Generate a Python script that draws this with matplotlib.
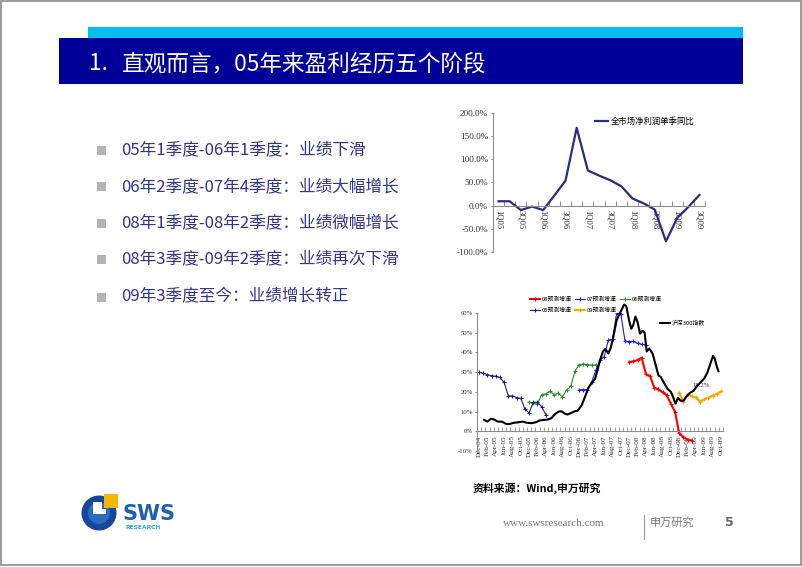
import numpy as np
import matplotlib
matplotlib.use('Agg')
import matplotlib.pyplot as plt
from matplotlib.patches import Rectangle, Circle

plt.rcParams['font.family'] = ['Noto Sans CJK SC', 'DejaVu Sans']

W, H = 802, 567

# ---------------- text content ----------------
title_num = "1."
title_text = "直观而言，05年来盈利经历五个阶段"
bullets = [
    "05年1季度-06年1季度：业绩下滑",
    "06年2季度-07年4季度：业绩大幅增长",
    "08年1季度-08年2季度：业绩微幅增长",
    "08年3季度-09年2季度：业绩再次下滑",
    "09年3季度至今：业绩增长转正",
]
source_text = "资料来源：Wind,申万研究"

# ---------------- chart 1 data ----------------
quarters = ['1Q05', '2Q05', '3Q05', '4Q05', '1Q06', '2Q06', '3Q06', '4Q06',
            '1Q07', '2Q07', '3Q07', '4Q07', '1Q08', '2Q08', '3Q08', '4Q08',
            '1Q09', '2Q09', '3Q09']
profit_yoy = [9.5, 9.5, -9.5, -2.0, -9.5, 22.0, 54.0, 168.0,
              76.0, 65.0, 55.0, 42.0, 15.5, 5.0, -8.5, -77.0,
              -27.0, -3.0, 23.0]
profit_label = '全市场净利润单季同比'
yticks1 = [-100, -50, 0, 50, 100, 150, 200]

# ---------------- chart 2 data ----------------
months = ['Dec-04',
          'Jan-05', 'Feb-05', 'Mar-05', 'Apr-05', 'May-05', 'Jun-05', 'Jul-05', 'Aug-05', 'Sep-05', 'Oct-05', 'Nov-05', 'Dec-05',
          'Jan-06', 'Feb-06', 'Mar-06', 'Apr-06', 'May-06', 'Jun-06', 'Jul-06', 'Aug-06', 'Sep-06', 'Oct-06', 'Nov-06', 'Dec-06',
          'Jan-07', 'Feb-07', 'Mar-07', 'Apr-07', 'May-07', 'Jun-07', 'Jul-07', 'Aug-07', 'Sep-07', 'Oct-07', 'Nov-07', 'Dec-07',
          'Jan-08', 'Feb-08', 'Mar-08', 'Apr-08', 'May-08', 'Jun-08', 'Jul-08', 'Aug-08', 'Sep-08', 'Oct-08', 'Nov-08', 'Dec-08',
          'Jan-09', 'Feb-09', 'Mar-09', 'Apr-09', 'May-09', 'Jun-09', 'Jul-09', 'Aug-09', 'Sep-09', 'Oct-09']

f05_start = 'Dec-04'
f05 = [30.0, 29.5, 28.7, 28.2, 27.9, 27.3, 24.8, 18.0, 17.9, 17.1, 16.7, 11.2, 9.3, 14.7, 14.7, 12.5, 8.5]
f06_start = 'Dec-05'
f06 = [14.8, 14.2, 13.8, 18.6, 19.0, 20.2, 18.6, 19.3, 17.4, 21.0, 22.8, 30.6, 33.8, 34.1, 33.8, 33.6, 33.6]
f07_start = 'Dec-06'
f07 = [21.1, 21.1, 21.1, 25.0, 31.0, 36.1, 37.8, 46.3, 46.7, 60.0, 59.5, 45.8, 45.5, 45.6, 44.6, 44.1, 43.8]
f08_start = 'Dec-07'
f08 = [35.0, 35.5, 36.1, 37.3, 29.0, 28.0, 22.2, 21.2, 19.8, 18.3, 14.0, 9.8, -1.0, -3.0, -4.2, -4.7]
f09_start = 'Dec-08'
f09 = [19.6, 14.8, 18.8, 17.7, 17.2, 15.0, 16.3, 17.1, 18.1, 19.0, 20.2]

# CSI 300 index (secondary scale, drawn in chart units), month offset from Dec-04
csi_pos = [1.2, 2.0, 2.8, 3.6, 4.5, 5.5, 6.5, 7.3, 8.3, 9.5, 10.5, 11.5, 12.5, 13.7, 14.5,
           15.7, 16.5, 17.3, 18.3, 19.2, 19.8, 20.6, 21.2, 22.2, 23.0, 23.6, 24.6, 25.4,
           26.2, 27.0, 27.8, 28.4, 29.0, 29.7, 30.3, 31.0, 31.6, 32.2, 33.0, 33.8, 34.8,
           35.3, 36.0, 36.5, 37.0, 37.5, 38.0, 38.6, 39.2, 39.7, 40.2, 40.8, 41.6, 42.3,
           43.0, 43.6, 44.5, 45.2, 46.0, 46.6, 47.1, 47.7, 48.3, 49.0, 49.8, 50.6, 51.4,
           52.3, 53.2, 54.0, 54.8, 55.5, 56.1, 56.5, 57.0, 57.4]
csi_val = [5.8, 4.9, 6.3, 6.0, 4.9, 4.9, 3.7, 3.7, 4.3, 4.6, 4.9, 4.3, 4.1, 4.6, 5.5,
           5.8, 6.0, 6.6, 8.9, 10.1, 10.1, 8.9, 8.5, 9.4, 10.2, 10.4, 13.1, 17.5,
           22.0, 24.5, 26.5, 31.0, 36.0, 40.5, 41.8, 39.5, 42.5, 48.0, 56.4, 60.0, 64.3,
           63.5, 56.0, 52.0, 54.0, 58.2, 55.5, 49.5, 51.0, 50.0, 40.5, 42.0, 39.5, 34.0,
           28.5, 27.5, 24.0, 21.5, 20.0, 17.0, 14.0, 17.0, 15.5, 15.5, 17.8, 19.5, 20.5,
           23.0, 25.0, 26.8, 30.0, 34.5, 38.2, 37.0, 33.0, 30.5]
yticks2 = [-10, 0, 10, 20, 30, 40, 50, 60]
annot_label = '18.2%'

# ---------------- figure ----------------
fig = plt.figure(figsize=(W / 100, H / 100), dpi=100)
bg = fig.add_axes([0, 0, 1, 1], zorder=0)
bg.set_xlim(0, W)
bg.set_ylim(H, 0)
bg.axis('off')

# page border
bg.add_patch(Rectangle((0.8, 0.8), W - 2.0, 564.5, fill=False, ec='#8a8a8a', lw=1.2))
# header bars
bg.add_patch(Rectangle((88, 26.7), 655, 11.8, color='#00bff0', lw=0))
bg.add_patch(Rectangle((58.5, 38.3), 684.5, 45.9, color='#000099', lw=0))
bg.text(89, 64, title_num, color='white', fontsize=16.3, va='center', ha='left')
bg.text(122, 64, title_text, color='white', fontsize=16.3, va='center', ha='left')

# bullets
bullet_y = [150, 186.5, 223, 259, 297]
for yy, txt in zip(bullet_y, bullets):
    bg.add_patch(Rectangle((97, yy - 4.5), 9, 9, color='#b4b4b4', lw=0))
    bg.text(121, yy, txt, color='#333390', fontsize=12, va='center', ha='left')

# footer
bg.text(473, 488, source_text, color='black', fontsize=7.8, fontweight='bold', va='center', ha='left')
bg.text(503, 523, 'www.swsresearch.com', color='#7a7a7a', fontsize=8, family='Liberation Serif',
        va='center', ha='left')
bg.plot([644, 644], [515, 539], color='#9a9a9a', lw=0.8)
bg.text(650, 523, '申万研究', color='#7a7a7a', fontsize=8, va='center', ha='left')
bg.text(725, 522, '5', color='#6a6a6a', fontsize=9, fontweight='bold', family='DejaVu Sans',
        va='center', ha='left')

# logo
bg.add_patch(Circle((99, 513), 17.5, color='#17479a', lw=0))
bg.add_patch(Circle((99, 513), 11, color='#2a6cc0', lw=0))
bg.add_patch(Rectangle((93, 502), 9, 12, color='white', lw=0))
bg.add_patch(Rectangle((93, 509), 13, 5, color='white', lw=0))
bg.add_patch(Rectangle((104, 493.5), 14, 14, color='#f7b500', lw=0))
bg.text(123, 514, 'SWS', color='#1e5fb3', fontsize=15, fontweight='bold', family='DejaVu Sans',
        va='center', ha='left')
bg.text(125, 527.5, 'RESEARCH', color='#29a8e0', fontsize=4.3, fontweight='bold', family='DejaVu Sans',
        va='center', ha='left')

gray = '#8c8c8c'
serif = 'Liberation Serif'

# ---------------- chart 1 ----------------
ax1 = fig.add_axes([493 / W, 1 - 252 / H, 212 / W, 139 / H], zorder=2)
ax1.patch.set_alpha(0)
x1 = np.arange(len(quarters))
ln1, = ax1.plot(x1, profit_yoy, color='#2b2b85', lw=1.6, label=profit_label)
ax1.set_xlim(-0.5, len(quarters) - 0.5)
ax1.set_ylim(-100, 200)
for s in ['top', 'right']:
    ax1.spines[s].set_visible(False)
ax1.spines['bottom'].set_position(('data', 0))
for s in ['left', 'bottom']:
    ax1.spines[s].set_color(gray)
    ax1.spines[s].set_linewidth(0.8)
ax1.set_yticks(yticks1)
ax1.set_yticklabels([f'{v:.1f}%' for v in yticks1], family=serif, fontsize=6.6, color='#333333')
ax1.tick_params(axis='y', length=1.5, color=gray, pad=2)
ax1.set_xticks(x1[::2])
ax1.set_xticklabels(quarters[::2], rotation=270, family=serif, fontsize=6.2, color='#333333')
ax1.set_xticks(np.arange(-0.5, len(quarters), 1), minor=True)
ax1.tick_params(axis='x', which='major', length=0, pad=3)
ax1.tick_params(axis='x', which='minor', direction='in', length=3.5, color=gray, width=0.7)
ax1.legend(handles=[ln1], loc='center left', bbox_to_anchor=(595 / W, 1 - 121 / H),
           bbox_transform=fig.transFigure, frameon=False, fontsize=6, handlelength=1.6,
           handletextpad=0.3, borderpad=0, borderaxespad=0)

# ---------------- chart 2 ----------------
ax2 = fig.add_axes([477 / W, 1 - 451 / H, 246 / W, 138 / H], zorder=2)
ax2.patch.set_alpha(0)

def seg(start, vals):
    i0 = months.index(start)
    return np.arange(i0, i0 + len(vals))

mk = dict(marker='+', markersize=3, markeredgewidth=0.8)
l08, = ax2.plot(seg(f08_start, f08), f08, color='#ff0000', lw=1.5, label='08预测增速', **mk)
l07, = ax2.plot(seg(f07_start, f07), f07, color='#1a1aff', lw=0.8, label='07预测增速', **mk)
l06, = ax2.plot(seg(f06_start, f06), f06, color='#2e8b2e', lw=0.8, label='06预测增速', **mk)
l05, = ax2.plot(seg(f05_start, f05), f05, color='#1f1f8a', lw=0.8, label='05预测增速', **mk)
l09, = ax2.plot(seg(f09_start, f09), f09, color='#ffa500', lw=1.5, label='09预测增速', **mk)
lcsi, = ax2.plot(csi_pos, csi_val, color='black', lw=1.5, label='沪深300指数', clip_on=False)
ax2.text(53.3, 23.3, annot_label, fontsize=4.8, family=serif, color='#333333', ha='center', va='center')

ax2.set_xlim(-0.5, len(months) - 0.5)
ax2.set_ylim(-10, 60)
for s in ['top', 'right']:
    ax2.spines[s].set_visible(False)
ax2.spines['bottom'].set_position(('data', 0))
for s in ['left', 'bottom']:
    ax2.spines[s].set_color(gray)
    ax2.spines[s].set_linewidth(0.8)
ax2.set_yticks(yticks2)
ax2.set_yticklabels([f'{v}%' for v in yticks2], family=serif, fontsize=4.8, color='#333333')
ax2.tick_params(axis='y', length=1.5, color=gray, pad=1.5)
xm = np.arange(len(months))
ax2.set_xticks(xm[::2])
ax2.set_xticklabels(months[::2], rotation=90, family=serif, fontsize=5.2, color='#333333')
ax2.set_xticks(np.arange(-0.5, len(months), 1), minor=True)
ax2.tick_params(axis='x', which='major', length=0, pad=3)
ax2.tick_params(axis='x', which='minor', direction='in', length=3, color=gray, width=0.6)

leg1 = ax2.legend(handles=[l08, l05, l07, l09, l06], ncol=3, loc='upper left',
                  bbox_to_anchor=(530 / W, 1 - 297 / H), bbox_transform=fig.transFigure,
                  frameon=False, fontsize=4.2, handlelength=1.7, handletextpad=0.3,
                  columnspacing=0.6, labelspacing=1.0, borderpad=0, borderaxespad=0)
ax2.add_artist(leg1)
ax2.legend(handles=[lcsi], loc='center left', bbox_to_anchor=(660 / W, 1 - 323 / H),
           bbox_transform=fig.transFigure, frameon=False, fontsize=4.2, handlelength=1.7,
           handletextpad=0.3, borderpad=0, borderaxespad=0)

fig.savefig('out.png', dpi=100)
